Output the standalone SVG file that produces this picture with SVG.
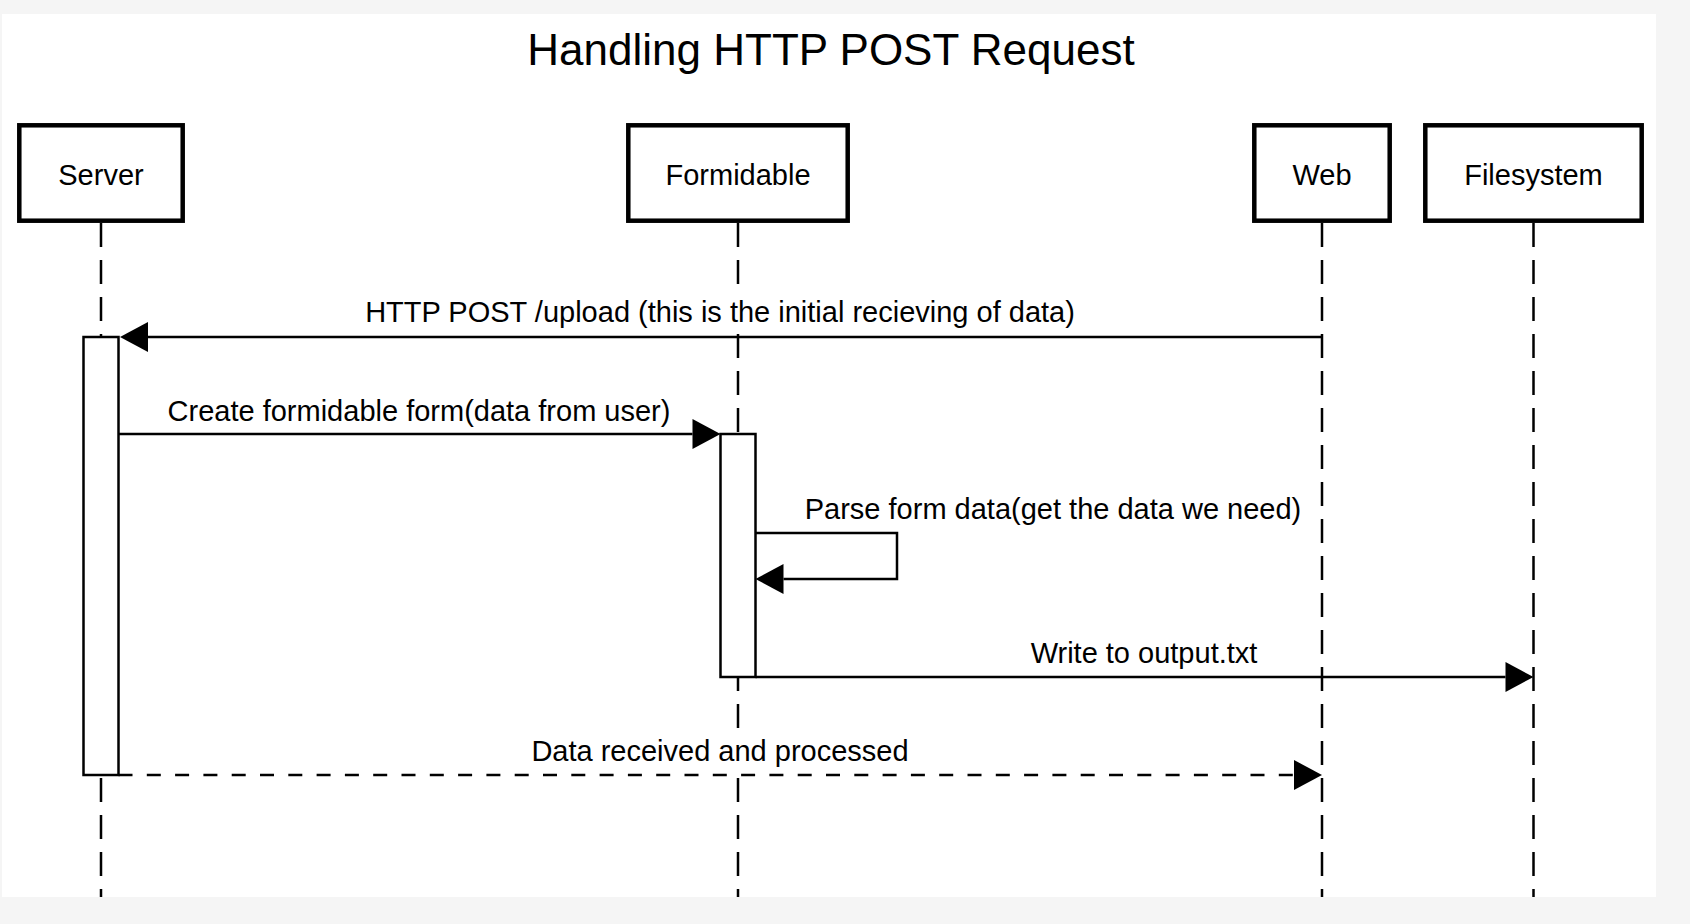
<svg xmlns="http://www.w3.org/2000/svg" width="1690" height="924" viewBox="0 0 1690 924">
<style>
text{font-family:"Liberation Sans",Arial,Helvetica,sans-serif;fill:#000}
.title{font-size:44px;text-anchor:middle}
.lbl{font-size:29px;text-anchor:middle}
.box{fill:#fff;stroke:#000;stroke-width:4.5}
.life{stroke:#000;stroke-width:2.5;stroke-dasharray:24 13;fill:none}
.act{fill:#fff;stroke:#000;stroke-width:2.5}
.msg{stroke:#000;stroke-width:2.5;fill:none}
.dash{stroke-dasharray:14 14.3}
.lbg{fill:#fff;stroke:none}
</style>
<defs>
<marker id="arr" markerUnits="userSpaceOnUse" markerWidth="28" markerHeight="30" viewBox="0 0 28 30" refX="0" refY="15" orient="auto" overflow="visible">
<path d="M0,0 L28,15 L0,30 Z" fill="#000" stroke="none"/>
</marker>
</defs>
<rect x="0" y="0" width="1690" height="924" fill="#f5f5f5"/>
<rect x="2" y="14" width="1654" height="883" fill="#fff"/>
<text class="title" x="831" y="65">Handling HTTP POST Request</text>
<g id="lifelines">
<line class="life" x1="101" y1="223" x2="101" y2="897"/>
<line class="life" x1="738" y1="223" x2="738" y2="897"/>
<line class="life" x1="1322" y1="223" x2="1322" y2="897"/>
<line class="life" x1="1533.5" y1="223" x2="1533.5" y2="897"/>
</g>
<g id="server">
<rect class="box" x="19.3" y="125.3" width="163.4" height="95.4"/>
<text class="lbl" x="101" y="185">Server</text>
</g>
<g id="formidable">
<rect class="box" x="628.3" y="125.3" width="219.4" height="95.4"/>
<text class="lbl" x="738" y="185">Formidable</text>
</g>
<g id="web">
<rect class="box" x="1254.3" y="125.3" width="135.4" height="95.4"/>
<text class="lbl" x="1322" y="185">Web</text>
</g>
<g id="filesystem">
<rect class="box" x="1425.3" y="125.3" width="216.4" height="95.4"/>
<text class="lbl" x="1533.5" y="185">Filesystem</text>
</g>
<g id="server-activation">
<rect class="act" x="83.5" y="337" width="35" height="438"/>
</g>
<g id="formidable-activation">
<rect class="act" x="720.5" y="434" width="35" height="243"/>
</g>
<g id="connectors">
<path class="msg" d="M1322,337 H148" marker-end="url(#arr)"/>
<rect class="lbg" x="358" y="296" width="724" height="34"/>
<text class="lbl" x="720" y="322">HTTP POST /upload (this is the initial recieving of data)</text>
<path class="msg" d="M118.5,434 H692.5" marker-end="url(#arr)"/>
<text class="lbl" x="419" y="421">Create formidable form(data from user)</text>
<path class="msg" d="M755.5,533 H897 V579 H783.5" marker-end="url(#arr)"/>
<text class="lbl" x="1053" y="519">Parse form data(get the data we need)</text>
<path class="msg" d="M755.5,677 H1505.5" marker-end="url(#arr)"/>
<text class="lbl" x="1144" y="663">Write to output.txt</text>
<path class="msg dash" d="M118.5,775 H1294" marker-end="url(#arr)"/>
<rect class="lbg" x="527" y="735" width="386" height="34"/>
<text class="lbl" x="720" y="761">Data received and processed</text>
</g>
</svg>
